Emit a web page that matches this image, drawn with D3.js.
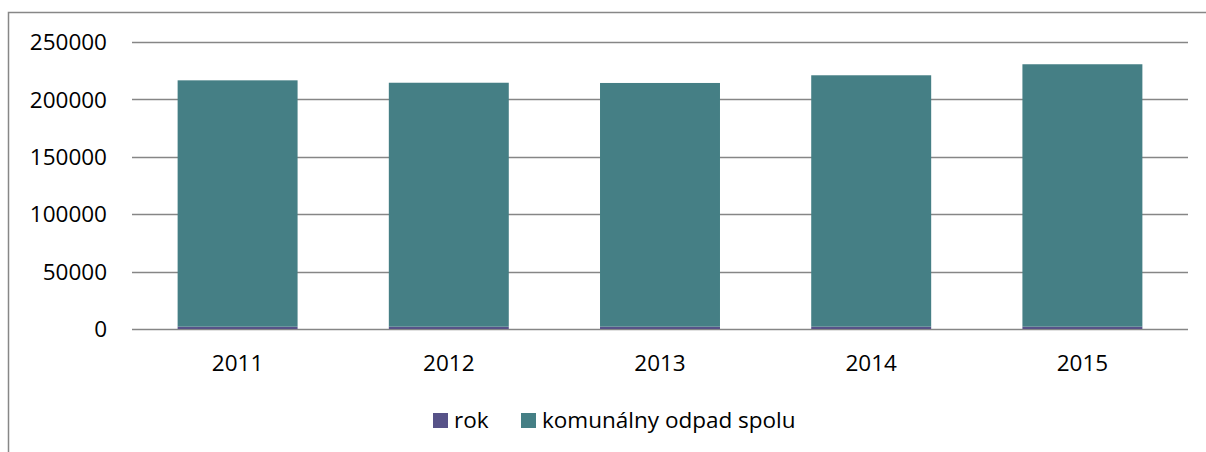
<!DOCTYPE html>
<html>
<head>
<meta charset="utf-8">
<script src="https://cdn.jsdelivr.net/npm/d3@7"></script>
<style>
  body { margin: 0; background: #fff; }
  svg text { font-family: "Open Sans", sans-serif; fill: #000; }
</style>
</head>
<body>
<div class="chart"></div>
<script>
// data
var years = ["2011", "2012", "2013", "2014", "2015"];
var rok = [2011, 2012, 2013, 2014, 2015];
var odpad = [214600, 212500, 212300, 219000, 228600];
var yTicks = [0, 50000, 100000, 150000, 200000, 250000];
var seriesNames = ["rok", "komunálny odpad spolu"];
var colors = ["#575288", "#457f85"];

var width = 1206,
    height = 452,
    plotLeft = 132,
    plotRight = 1188,
    plotTop = 42,
    plotBottom = 329,
    fontSize = "22.5px";

var svg = d3.select(".chart").append("svg")
    .attr("width", width)
    .attr("height", height);

// outer frame (runs off the right and bottom edge)
svg.append("rect")
    .attr("x", 8.5)
    .attr("y", 12.5)
    .attr("width", width + 10)
    .attr("height", height + 10)
    .style("fill", "none")
    .style("stroke", "#878787")
    .style("stroke-width", 1.5);

var x = d3.scaleBand()
    .domain(years)
    .range([plotLeft, plotRight])
    .paddingInner(0.432)
    .paddingOuter(0.216);

var y = d3.scaleLinear()
    .domain([0, 250000])
    .range([plotBottom, plotTop]);

// gridlines
svg.append("g").selectAll("line")
    .data(yTicks)
    .enter().append("line")
    .attr("x1", plotLeft)
    .attr("x2", plotRight)
    .attr("y1", function(d) { return Math.round(y(d)) + 0.5; })
    .attr("y2", function(d) { return Math.round(y(d)) + 0.5; })
    .style("stroke", "#868686")
    .style("stroke-width", 1.5);

// y labels
svg.append("g").selectAll("text")
    .data(yTicks)
    .enter().append("text")
    .attr("x", 107)
    .attr("y", function(d) { return y(d); })
    .attr("dy", "0.36em")
    .attr("text-anchor", "end")
    .style("font-size", fontSize)
    .text(function(d) { return d; });

// stacked bars: rok at the bottom, odpad on top
var stackData = years.map(function(yr, i) {
    return { year: yr, rok: rok[i], odpad: odpad[i] };
});
var stack = d3.stack().keys(["rok", "odpad"])(stackData);

svg.append("g").selectAll("g")
    .data(stack)
    .enter().append("g")
    .style("fill", function(d, i) { return colors[i]; })
    .selectAll("rect")
    .data(function(d) { return d; })
    .enter().append("rect")
    .attr("x", function(d) { return x(d.data.year); })
    .attr("y", function(d) { return y(d[1]); })
    .attr("width", x.bandwidth())
    .attr("height", function(d) { return y(d[0]) - y(d[1]); });

// x labels
svg.append("g").selectAll("text")
    .data(years)
    .enter().append("text")
    .attr("x", function(d) { return x(d) + x.bandwidth() / 2; })
    .attr("y", 371)
    .attr("text-anchor", "middle")
    .style("font-size", fontSize)
    .text(function(d) { return d; });

// legend
var legendX = [433, 521];
var legend = svg.append("g").selectAll("g")
    .data(seriesNames)
    .enter().append("g")
    .attr("transform", function(d, i) { return "translate(" + legendX[i] + ",413)"; });

legend.append("rect")
    .attr("width", 15)
    .attr("height", 15)
    .style("fill", function(d, i) { return colors[i]; });

legend.append("text")
    .attr("x", 21)
    .attr("y", 15)
    .style("font-size", fontSize)
    .text(function(d) { return d; });
</script>
</body>
</html>
